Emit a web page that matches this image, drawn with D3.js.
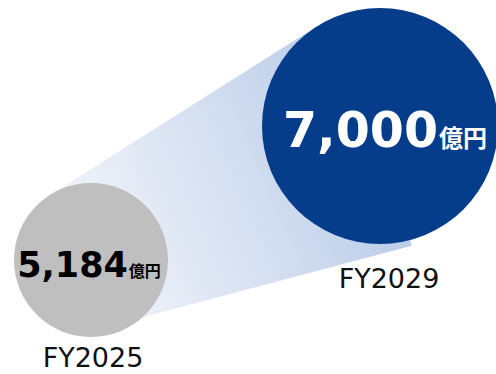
<!DOCTYPE html>
<html>
<head>
<meta charset="utf-8">
<script src="https://cdn.jsdelivr.net/npm/d3@7"></script>
<style>
  body { margin: 0; background: #fff; }
  svg { display: block; }
</style>
</head>
<body>
<svg id="chart" width="496" height="374"></svg>
<script>
// data
var years = ["FY2025", "FY2029"];
var yearNums = [2025, 2029];
var values = [5184, 7000];
var unit = "億円";
var fills = ["#bfbfbf", "#053d8b"];
var textColors = ["#000", "#fff"];

var svg = d3.select("#chart");

var x = d3.scaleLinear().domain([2025, 2029]).range([91, 380]);
var y = d3.scaleLinear().domain([5184, 7000]).range([260, 126]);
var r = d3.scaleLinear().domain([5184, 7000]).range([77, 118]);

var circles = values.map(function(v, i) {
  return {cx: x(yearNums[i]), cy: y(v), r: r(v), v: v, year: years[i], i: i};
});

// band between circles (outer tangent lines, lower edge a bit flatter like the original)
var a = circles[0], b = circles[1];
function tangent(r1, r2, side) {
  var dx = b.cx - a.cx, dy = b.cy - a.cy;
  var d = Math.sqrt(dx * dx + dy * dy);
  var ang = Math.atan2(dy, dx);
  var alpha = Math.asin((r2 - r1) / d);
  // normal direction of the tangent line
  var t = ang + side * (Math.PI / 2 + alpha);
  var nx = Math.cos(t), ny = Math.sin(t);
  return [[a.cx + r1 * nx, a.cy + r1 * ny], [b.cx + r2 * nx, b.cy + r2 * ny]];
}
var up = tangent(a.r, b.r, -1);
var low = tangent(a.r * 0.89, b.r * 1.05, 1);

var defs = svg.append("defs");
var grad = defs.append("linearGradient")
  .attr("id", "band")
  .attr("gradientUnits", "userSpaceOnUse")
  .attr("x1", a.cx - 40).attr("y1", a.cy + 10)
  .attr("x2", b.cx).attr("y2", b.cy);
grad.append("stop").attr("offset", 0).attr("stop-color", "#f7f9fc");
grad.append("stop").attr("offset", 1).attr("stop-color", "#b9cbe8");

svg.append("path")
  .attr("d", d3.line()([up[0], up[1], [b.cx, b.cy], low[1], low[0], [a.cx, a.cy]]) + "Z")
  .attr("fill", "url(#band)");

svg.selectAll("circle.bubble")
  .data(circles)
  .enter().append("circle")
  .attr("class", "bubble")
  .attr("cx", function(d) { return d.cx; })
  .attr("cy", function(d) { return d.cy; })
  .attr("r", function(d) { return d.r; })
  .attr("fill", function(d) { return fills[d.i]; });

var numSize = [35, 49];
var unitSize = [16, 24];
var numDx = [-2, 5];
var numDy = [17, 21];

var lab = svg.selectAll("text.val")
  .data(circles)
  .enter().append("text")
  .attr("class", "val")
  .attr("x", function(d) { return d.cx + numDx[d.i]; })
  .attr("y", function(d) { return d.cy + numDy[d.i]; })
  .attr("text-anchor", "middle")
  .attr("fill", function(d) { return textColors[d.i]; })
  .style("font-weight", "bold");
lab.append("tspan")
  .style("font-family", "'DejaVu Sans', sans-serif")
  .style("font-size", function(d) { return numSize[d.i] + "px"; })
  .text(function(d) { return d3.format(",")(d.v); });
lab.append("tspan")
  .attr("dx", 1)
  .style("font-family", "'Noto Sans CJK JP', sans-serif")
  .style("font-size", function(d) { return unitSize[d.i] + "px"; })
  .text(unit);

var yearDx = [2, 9];
svg.selectAll("text.year")
  .data(circles)
  .enter().append("text")
  .attr("class", "year")
  .attr("x", function(d) { return d.cx + yearDx[d.i]; })
  .attr("y", function(d) { return d.cy + d.r + (d.i == 0 ? 30 : 44); })
  .attr("text-anchor", "middle")
  .style("font-family", "'DejaVu Sans', sans-serif")
  .style("font-size", "27px")
  .attr("fill", "#111")
  .text(function(d) { return d.year; });
</script>
</body>
</html>
